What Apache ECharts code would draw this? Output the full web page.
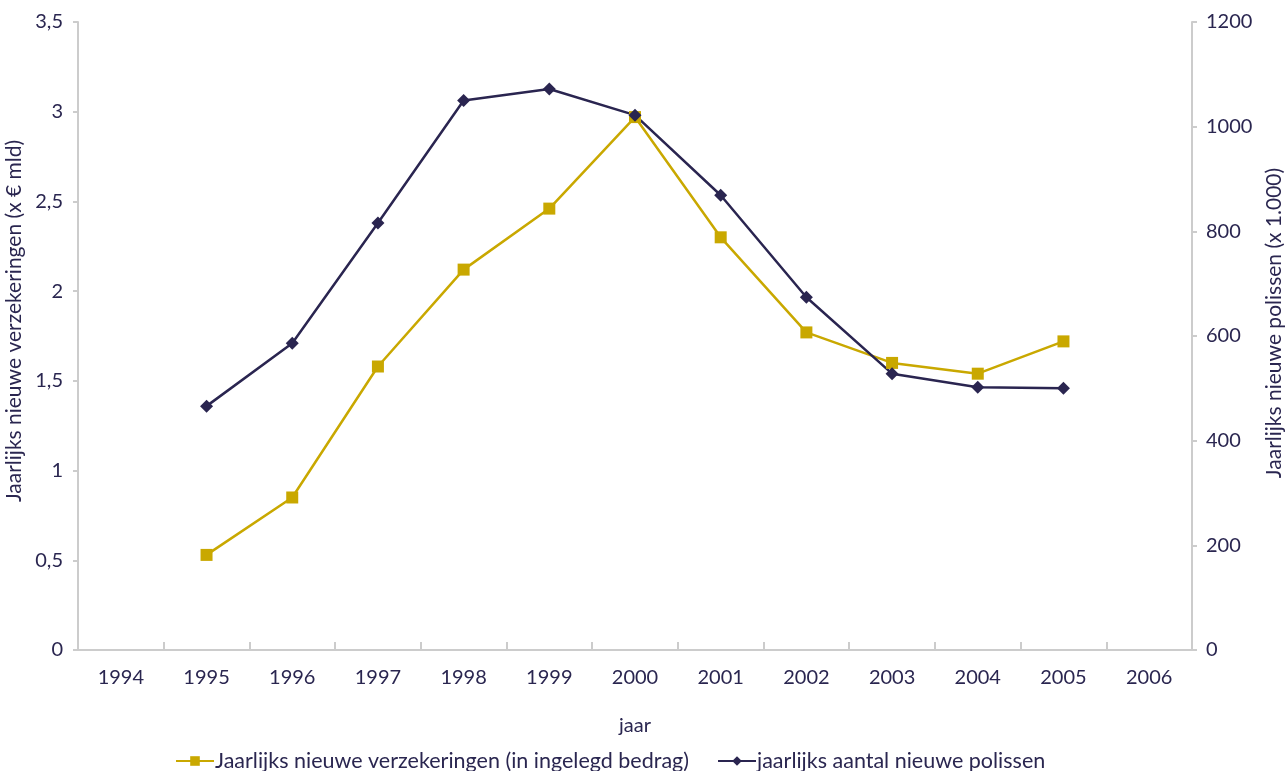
<!DOCTYPE html>
<html>
<head>
<meta charset="utf-8">
<script src="https://cdn.jsdelivr.net/npm/echarts@6/dist/echarts.min.js"></script>
<style>
  html, body { margin: 0; padding: 0; background: #fff; }
  #chart { width: 1285px; height: 771px; }
</style>
</head>
<body>
<div id="chart"></div>
<script>
// Years on the category axis
const years = ['1994','1995','1996','1997','1998','1999','2000','2001','2002','2003','2004','2005','2006'];

// Yearly new insurance (x € billion), left axis
const nieuweVerzekeringen = [null, 0.53, 0.85, 1.58, 2.12, 2.46, 2.97, 2.30, 1.77, 1.60, 1.54, 1.72, null];

// Yearly number of new policies (x 1,000), right axis
const nieuwePolissen = [null, 466, 586, 816, 1050, 1072, 1022, 869, 674, 528, 502, 500, null];

const seriesNames = ['Jaarlijks nieuwe verzekeringen (in ingelegd bedrag)', 'jaarlijks aantal nieuwe polissen'];

const textColor = '#2a2650';
const axisGray = '#cccccc';
const gold = '#c9a800';
const navy = '#2a2550';
const font = 'Lato, "Open Sans", sans-serif';

const chart = echarts.init(document.getElementById('chart'), null, { renderer: 'canvas' });

chart.setOption({
  animation: false,
  textStyle: { fontFamily: font, color: textColor },
  grid: { left: 78, right: 93, top: 22, bottom: 121, containLabel: false, outerBoundsMode: 'none' },
  legend: {
    bottom: -6,
    left: 170,
    itemGap: 28,
    itemWidth: 38,
    itemHeight: 12,
    textStyle: { fontFamily: font, fontSize: 21.5, color: textColor, padding: [0, 0, 0, -4] },
    data: seriesNames
  },
  xAxis: {
    type: 'category',
    data: years,
    boundaryGap: true,
    name: 'jaar',
    nameLocation: 'middle',
    nameGap: 66,
    nameTextStyle: { fontSize: 20, color: textColor },
    axisLine: { lineStyle: { color: axisGray, width: 2 } },
    axisTick: { show: true, inside: true, length: 8, alignWithLabel: false, lineStyle: { color: axisGray, width: 2 } },
    axisLabel: { fontSize: 20, color: textColor, margin: 18 },
    splitLine: { show: false }
  },
  yAxis: [
    {
      type: 'value',
      min: 0,
      max: 3.5,
      interval: 0.5,
      position: 'left',
      name: 'Jaarlijks nieuwe verzekeringen (x € mld)',
      nameLocation: 'middle',
      nameGap: 48,
      nameRotate: 90,
      nameTextStyle: { fontSize: 21, color: textColor, padding: [0, 0, 0, 30] },
      axisLine: { show: true, lineStyle: { color: axisGray, width: 2 } },
      axisTick: { show: true, length: 5, lineStyle: { color: axisGray, width: 2 } },
      axisLabel: {
        fontSize: 20, color: textColor, margin: 15,
        formatter: v => String(v).replace('.', ',')
      },
      splitLine: { show: false }
    },
    {
      type: 'value',
      min: 0,
      max: 1200,
      interval: 200,
      position: 'right',
      name: 'Jaarlijks nieuwe polissen (x 1.000)',
      nameLocation: 'middle',
      nameGap: 72,
      nameRotate: 90,
      nameTextStyle: { fontSize: 21, color: textColor, padding: [0, 0, 0, 26] },
      axisLine: { show: true, lineStyle: { color: axisGray, width: 2 } },
      axisTick: { show: true, length: 5, lineStyle: { color: axisGray, width: 2 } },
      axisLabel: { fontSize: 20, color: textColor, margin: 14, formatter: v => String(v) },
      splitLine: { show: false }
    }
  ],
  series: [
    {
      name: seriesNames[0],
      type: 'line',
      yAxisIndex: 0,
      data: nieuweVerzekeringen,
      symbol: 'rect',
      symbolSize: 12,
      showAllSymbol: true,
      lineStyle: { color: gold, width: 2.5 },
      itemStyle: { color: gold },
      connectNulls: false
    },
    {
      name: seriesNames[1],
      type: 'line',
      yAxisIndex: 1,
      data: nieuwePolissen,
      symbol: 'diamond',
      symbolSize: 13,
      showAllSymbol: true,
      lineStyle: { color: navy, width: 2.5 },
      itemStyle: { color: navy },
      connectNulls: false
    }
  ]
});
</script>
</body>
</html>
